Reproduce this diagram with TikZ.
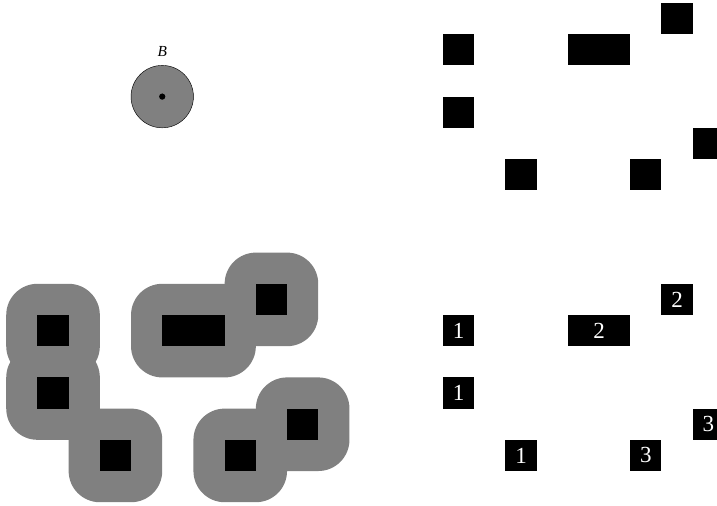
\documentclass[tikz,border=0pt]{standalone}
\usepackage{fontspec}
\setmainfont{Liberation Serif}
\usepackage{tikz}
\usetikzlibrary{positioning}

\begin{document}
\begin{tikzpicture}[x=1cm, y=1cm,
    blk/.style={fill=black, draw=none, inner sep=0pt, minimum width=1cm, minimum height=1cm},
    wideblk/.style={blk, minimum width=2cm},
    numblk/.style={blk, text=white, font=\fontsize{21}{21}\selectfont},
    wnumblk/.style={numblk, minimum width=2cm},
    halo/.style={fill=gray, draw=none, inner sep=0pt, minimum width=3cm, minimum height=3cm, rounded corners=1cm},
    widehalo/.style={halo, minimum width=4cm},
    disk/.style={circle, draw, fill=gray, inner sep=0pt, minimum size=2cm},
    dot/.style={circle, fill=black, inner sep=0pt, minimum size=2mm}]
    \clip (-14.2,-16.12) rectangle (8.78,0.096);

    % structuring element
    \node[disk, label={[label distance=1.4mm, font=\fontsize{14}{14}\selectfont]above:\textit{B}}] (b) at (-9,-3) {};
    \node[dot] (bc) at (b.center) {};

    % input set
    \node[blk] (a1) at (0.5,-1.5) {};
    \node[wideblk] (a2) at (5,-1.5) {};
    \node[blk] (a3) at (7.5,-0.5) {};
    \node[blk] (a4) at (0.5,-3.5) {};
    \node[blk] (a5) at (8.5,-4.5) {};
    \node[blk] (a6) at (2.5,-5.5) {};
    \node[blk] (a7) at (6.5,-5.5) {};

    % dilation by B
    \node[halo] (h1) at (-12.5,-10.5) {};
    \node[widehalo] (h2) at (-8,-10.5) {};
    \node[halo] (h3) at (-5.5,-9.5) {};
    \node[halo] (h4) at (-12.5,-12.5) {};
    \node[halo] (h5) at (-4.5,-13.5) {};
    \node[halo] (h6) at (-10.5,-14.5) {};
    \node[halo] (h7) at (-6.5,-14.5) {};
    \node[blk] (d1) at (h1.center) {};
    \node[wideblk] (d2) at (h2.center) {};
    \node[blk] (d3) at (h3.center) {};
    \node[blk] (d4) at (h4.center) {};
    \node[blk] (d5) at (h5.center) {};
    \node[blk] (d6) at (h6.center) {};
    \node[blk] (d7) at (h7.center) {};

    % labelled components
    \node[numblk] (c1) at (0.5,-10.5) {1};
    \node[wnumblk] (c2) at (5,-10.5) {2};
    \node[numblk] (c3) at (7.5,-9.5) {2};
    \node[numblk] (c4) at (0.5,-12.5) {1};
    \node[numblk] (c5) at (8.5,-13.5) {3};
    \node[numblk] (c6) at (2.5,-14.5) {1};
    \node[numblk] (c7) at (6.5,-14.5) {3};
\end{tikzpicture}
\end{document}
